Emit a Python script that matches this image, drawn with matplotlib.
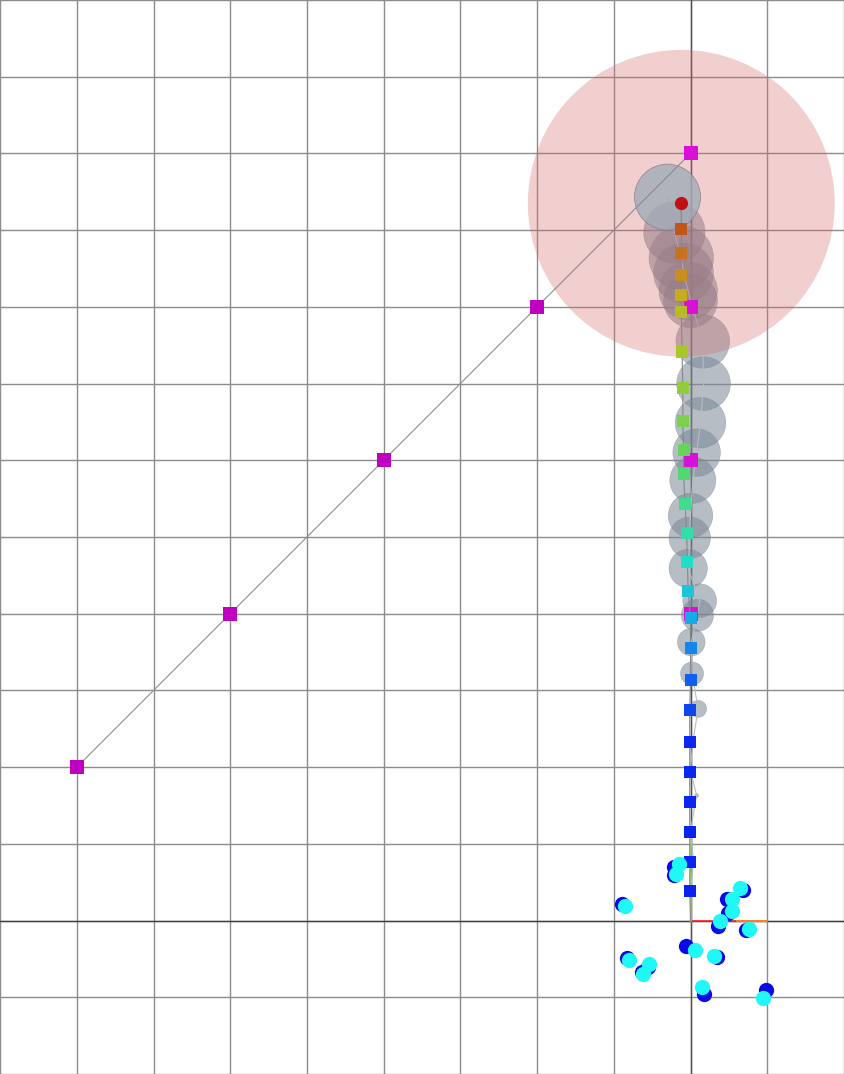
import matplotlib
matplotlib.use("Agg")
import matplotlib.pyplot as plt
import numpy as np
from matplotlib.colors import LinearSegmentedColormap
from matplotlib.patches import Circle

# waypoints (magenta squares)
wp_diag_x = [-8, -6, -4, -2, 0]
wp_diag_y = [2, 4, 6, 8, 10]
wp_up_x = [0, 0, 0, 0]
wp_up_y = [4, 6, 8, 10]

# estimated poses (coloured squares, last one is the current pose)
est_x = [-0.01, -0.01, -0.01, -0.01, -0.01, -0.01, -0.01, 0.00, 0.00, 0.00,
         -0.03, -0.04, -0.05, -0.07, -0.09, -0.09, -0.10, -0.10, -0.11, -0.12,
         -0.12, -0.12, -0.12, -0.12, -0.12]
est_y = [0.38, 0.77, 1.16, 1.55, 1.94, 2.33, 2.74, 3.14, 3.55, 3.95,
         4.29, 4.67, 5.05, 5.43, 5.82, 6.13, 6.51, 6.94, 7.41, 7.93,
         8.15, 8.41, 8.70, 9.01, 9.35]

# odometry poses with uncertainty radius (grey circles)
odo_x = [0.00, 0.04, 0.00, 0.08, 0.00, 0.03, 0.10, 0.02, 0.01, 0.09,
         0.12, -0.03, -0.01, 0.00, 0.03, 0.08, 0.13, 0.17, 0.16, 0.00,
         -0.03, -0.09, -0.12, -0.21, -0.30]
odo_y = [0.39, 0.78, 1.17, 1.63, 1.96, 2.33, 2.76, 3.22, 3.63, 3.98,
         4.17, 4.59, 4.99, 5.28, 5.74, 6.10, 6.49, 7.00, 7.55, 8.08,
         8.21, 8.44, 8.64, 8.97, 9.43]
odo_r = [0.01, 0.01, 0.02, 0.025, 0.03, 0.04, 0.11, 0.15, 0.18, 0.21,
         0.22, 0.25, 0.27, 0.29, 0.30, 0.31, 0.33, 0.35, 0.35, 0.35,
         0.38, 0.39, 0.42, 0.40, 0.43]

# landmarks: true (blue) and estimated (cyan)
lm_true_x = [-0.22, -0.22, -0.89, 0.69, 0.47, 0.49, 0.36, 0.72, -0.06, 0.34,
             -0.83, -0.56, -0.63, 0.18, 0.99]
lm_true_y = [0.70, 0.59, 0.22, 0.40, 0.28, 0.10, -0.07, -0.12, -0.33, -0.48,
             -0.49, -0.60, -0.67, -0.96, -0.91]
lm_est_x = [-0.15, -0.19, -0.86, 0.65, 0.54, 0.54, 0.38, 0.76, 0.06, 0.31,
            -0.80, -0.54, -0.62, 0.15, 0.94]
lm_est_y = [0.74, 0.61, 0.19, 0.43, 0.28, 0.12, -0.01, -0.11, -0.38, -0.46,
            -0.51, -0.56, -0.69, -0.87, -1.01]

SENSOR_RANGE = 2.0

traj_cmap = LinearSegmentedColormap.from_list("traj", [
    (0.00, "#0a22f0"), (0.21, "#0a28f0"), (0.29, "#1060f0"),
    (0.375, "#18a8e8"), (0.46, "#20e0c8"), (0.58, "#50d870"),
    (0.75, "#a8c828"), (0.83, "#c8b020"), (0.92, "#c87020"),
    (0.96, "#c05818"), (1.00, "#c01010"),
])

fig = plt.figure(figsize=(8.44, 10.74), dpi=100)
ax = fig.add_axes([0, 0, 1, 1])
ax.set_xlim(-9, 2)
ax.set_ylim(-2, 12)
ax.set_aspect("equal", adjustable="box")
ax.set_xticks(np.arange(-9, 3))
ax.set_yticks(np.arange(-2, 13))
ax.tick_params(length=0, labelbottom=False, labelleft=False)
for s in ax.spines.values():
    s.set_visible(False)
ax.grid(True, color="#8c8c8c", linewidth=1.0)
ax.set_axisbelow(True)
ax.axhline(0, color="#404040", linewidth=1.0, zorder=1)
ax.axvline(0, color="#505050", linewidth=1.0, zorder=1)

# world frame
ax.plot([0, 1], [0, 0], color="#ff2020", linewidth=1.2, zorder=1.5)
ax.plot([0.6, 1], [0, 0], color="#ff9020", linewidth=1.2, zorder=1.5)
ax.plot([0, 0], [0, 1], color="#80e040", linewidth=1.2, zorder=1.5)

# odometry uncertainty
for x, y, r in zip(odo_x[:-1], odo_y[:-1], odo_r[:-1]):
    ax.add_patch(Circle((x, y), r, facecolor="#7a8796", edgecolor="#7a8490",
                        linewidth=0.4, alpha=0.55, zorder=2))
ax.plot(odo_x, odo_y, color="#b8bcc4", linewidth=0.8, zorder=2.1)

# sensor range
ax.add_patch(Circle((est_x[-1], est_y[-1]), SENSOR_RANGE, facecolor="#d46a6a",
                    edgecolor="none", alpha=0.32, zorder=3))
ax.add_patch(Circle((odo_x[-1], odo_y[-1]), odo_r[-1], facecolor="#a0acb8",
                    edgecolor="#8a7a86", linewidth=0.6, alpha=0.8, zorder=4))

# waypoints
ax.plot(wp_diag_x, wp_diag_y, color="#8c8c8c", linewidth=0.8, zorder=4.5)
ax.plot(wp_diag_x, wp_diag_y, "s", color="#c000c0", markersize=10.5,
        markeredgewidth=0, zorder=5)
ax.plot(wp_up_x, wp_up_y, "s", color="#d810d8", markersize=10.5,
        markeredgewidth=0, zorder=5)

# estimated trajectory
ax.plot([0] + est_x, [0] + est_y, color="#888888", linewidth=0.8, zorder=5.5)
t = np.linspace(0, 1, len(est_x))
cols = traj_cmap(t)
for x, y, c in zip(est_x[:-1], est_y[:-1], cols[:-1]):
    ax.plot(x, y, "s", color=c, markersize=8.6, markeredgewidth=0, zorder=6)
ax.plot(est_x[-1], est_y[-1], "o", color=cols[-1], markersize=9.5,
        markeredgewidth=0, zorder=6)

# landmarks
ax.plot(lm_true_x, lm_true_y, "o", color="#0a0ae6", markersize=11,
        markeredgewidth=0, linestyle="none", zorder=7)
ax.plot(lm_est_x, lm_est_y, "o", color="#20f8f8", markersize=11,
        markeredgewidth=0, linestyle="none", zorder=8)

fig.savefig("out.png", dpi=100)
plt.close(fig)
